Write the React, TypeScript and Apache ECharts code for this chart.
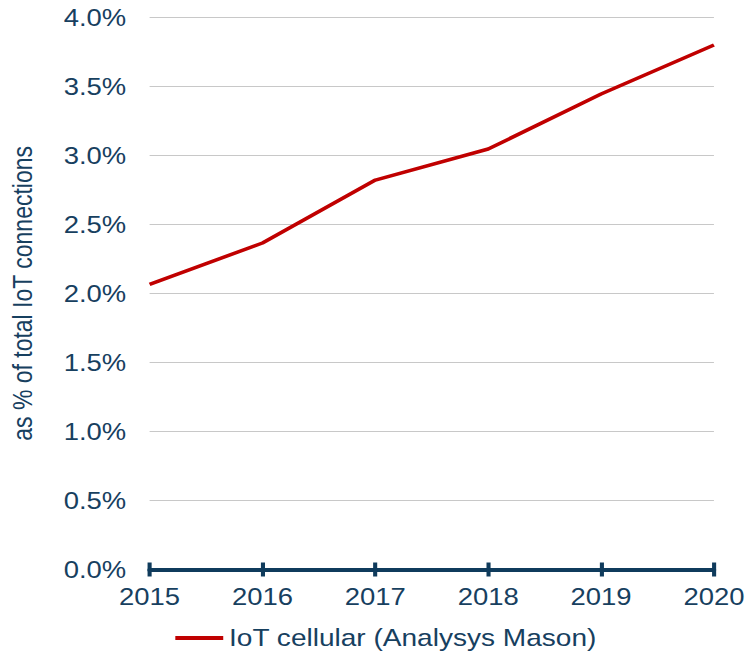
import React, { useEffect, useRef } from "react";
import * as echarts from "echarts";

const years = ["2015", "2016", "2017", "2018", "2019", "2020"];
const iotCellular = [2.066, 2.365, 2.821, 3.046, 3.444, 3.799];
const seriesName = "IoT cellular (Analysys Mason)";
const yTitle = "as % of total IoT connections";

const STRETCH = 748 / 640;
const TEXT = "#17405f";
const AXIS = "#0f3b5c";
const FONT = "'Liberation Sans', Arial, sans-serif";

export default function App() {
  const ref = useRef<HTMLDivElement>(null);
  useEffect(() => {
    if (!ref.current) return;
    const chart = echarts.init(ref.current, undefined, { renderer: "svg" });
    chart.setOption({
      animation: false,
      backgroundColor: "#ffffff",
      textStyle: { fontFamily: FONT },
      grid: { left: 127.5, right: 28.5, top: 17.3, bottom: 84.5, containLabel: false },
      legend: {
        left: 150,
        top: 626,
        padding: 0,
        itemWidth: 41,
        itemHeight: 4,
        icon: "rect",
        textStyle: { color: TEXT, fontSize: 24, fontFamily: FONT },
        data: [seriesName],
      },
      xAxis: [
        {
          type: "category",
          data: years,
          boundaryGap: false,
          axisLine: { show: true, lineStyle: { color: AXIS, width: 4 } },
          axisTick: { show: true, inside: false, length: 7, lineStyle: { color: AXIS, width: 3.5 } },
          axisLabel: { color: TEXT, fontSize: 23.5, fontFamily: FONT, margin: 15 },
          splitLine: { show: false },
        },
        {
          type: "category",
          data: years,
          boundaryGap: false,
          position: "bottom",
          axisLine: { show: false },
          axisTick: { show: true, inside: true, length: 7, lineStyle: { color: AXIS, width: 3.5 } },
          axisLabel: { show: false },
          splitLine: { show: false },
        },
      ],
      yAxis: {
        type: "value",
        min: 0,
        max: 4,
        interval: 0.5,
        name: yTitle,
        nameLocation: "middle",
        nameRotate: 90,
        nameGap: 97,
        nameTextStyle: { color: TEXT, fontSize: 23, fontFamily: FONT },
        axisLine: { show: false },
        axisTick: { show: false },
        axisLabel: {
          color: TEXT,
          fontSize: 23.5,
          fontFamily: FONT,
          margin: 20,
          formatter: (v: number) => v.toFixed(1) + "%",
        },
        splitLine: { show: true, lineStyle: { color: "#c8c8c8", width: 1 } },
      },
      series: [
        {
          name: seriesName,
          type: "line",
          data: iotCellular,
          xAxisIndex: 0,
          showSymbol: false,
          symbol: "none",
          lineStyle: { color: "#c00000", width: 3.5 },
          itemStyle: { color: "#c00000" },
        },
      ],
    });
    return () => chart.dispose();
  }, []);
  return (
    <div
      style={{
        position: "fixed",
        left: 0,
        top: 0,
        width: 640,
        height: 654,
        transform: `scaleX(${STRETCH})`,
        transformOrigin: "0 0",
        background: "#fff",
      }}
    >
      <div ref={ref} style={{ width: 640, height: 654 }} />
    </div>
  );
}
